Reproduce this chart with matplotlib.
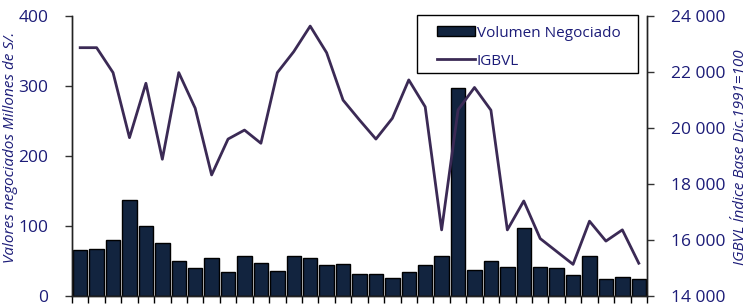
import numpy as np
import matplotlib.pyplot as plt
from matplotlib.patches import Rectangle
from matplotlib.ticker import FuncFormatter, FixedLocator

plt.rcParams['font.family'] = ['Open Sans', 'DejaVu Sans']

# Volumen negociado (millones de S/.) y IGBVL por periodo
volumen = [66, 68, 80, 138, 100, 76, 50, 40, 54, 34, 58, 48,
           36, 58, 54, 44, 46, 32, 32, 26, 34, 44, 58, 297,
           38, 50, 42, 97, 42, 40, 30, 58, 24, 28, 24]
igbvl = [22870, 22870, 21980, 19660, 21600, 18890, 21980, 20710, 18330, 19610,
         19930, 19460, 21980, 22730, 23640, 22690, 21000, 20290, 19610, 20350,
         21720, 20760, 16370, 20650, 21450, 20640, 16370, 17400, 16060, 15600,
         15140, 16680, 15970, 16370, 15180]

navy = '#1C1C78'
bar_color = '#12243F'
line_color = '#3B2A55'

x = np.arange(len(volumen))

fig = plt.figure(figsize=(7.49, 3.06), dpi=100)
ax = fig.add_axes([0.0961, 0.0317, 0.7677, 0.916])
ax2 = ax.twinx()

# barras en el eje izquierdo
bars = ax.bar(x, volumen, width=0.88, color=bar_color, edgecolor='black',
              linewidth=1.0, label='Volumen Negociado', zorder=2)
ax.set_xlim(-0.5, len(volumen) - 0.5)
ax.set_ylim(0, 400)
ax.set_yticks([0, 100, 200, 300, 400])

# linea en el eje derecho
ln, = ax2.plot(x, igbvl, color=line_color, linewidth=2.0, label='IGBVL', zorder=3)
ax2.set_ylim(14000, 24000)
ax2.set_yticks(np.arange(14000, 24001, 2000))
ax2.yaxis.set_major_formatter(FuncFormatter(lambda v, p: f'{int(v):,}'.replace(',', ' ')))

# ticks del eje x en los bordes de las barras
ax.xaxis.set_major_locator(FixedLocator(np.arange(-0.5, len(volumen), 1.0)))
ax.set_xticklabels([])
ax.tick_params(axis='x', direction='out', length=5, width=1, color='black')
ax.tick_params(axis='y', direction='out', length=5, width=1, color='#333333',
               labelsize=12.5, labelcolor=navy, pad=12)
ax2.tick_params(axis='y', direction='out', length=5, width=1, color='#333333',
                labelsize=12.5, labelcolor=navy, pad=12)

for a in (ax, ax2):
    a.spines['top'].set_visible(False)
    for s in ('left', 'right', 'bottom'):
        a.spines[s].set_color('#222222')
        a.spines[s].set_linewidth(1.0)

ax.set_ylabel('Valores negociados Millones de S/.', fontsize=11, style='italic',
              color=navy)
ax.yaxis.set_label_coords(-0.094, 0.53)
ax2.set_ylabel('IGBVL Índice Base Dic.1991=100', fontsize=11, style='italic',
               color=navy, rotation=90)
ax2.yaxis.set_label_coords(1.15, 0.495)

ax2.set_zorder(ax.get_zorder() + 1)
ax2.patch.set_visible(False)

# leyenda sin marco + marco dibujado aparte
leg = ax2.legend([bars, ln], ['Volumen Negociado', 'IGBVL'],
                 loc='upper left', bbox_to_anchor=(0.6348, 0.966),
                 fontsize=11, frameon=False,
                 handlelength=2.5, handleheight=0.65, handletextpad=0.1,
                 labelspacing=0.85, borderpad=0, borderaxespad=0)
for t in leg.get_texts():
    t.set_color(navy)
ax2.add_patch(Rectangle((0.6, 0.7966), 0.3843, 0.207, transform=ax2.transAxes,
                        fill=False, edgecolor='black', linewidth=1.0,
                        clip_on=False, zorder=5))

fig.savefig('out.png', dpi=100)
